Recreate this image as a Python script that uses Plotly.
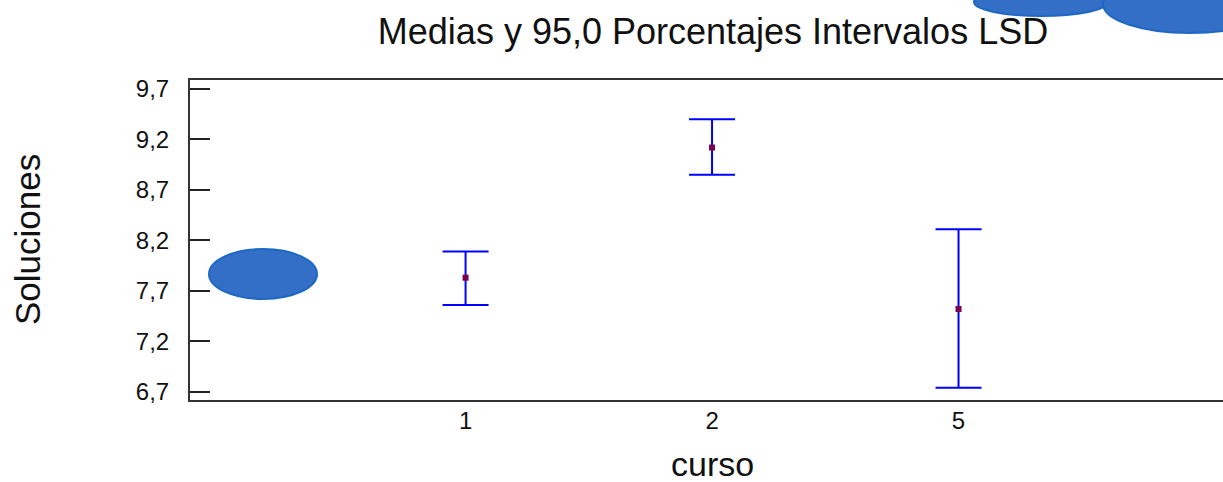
import plotly.graph_objects as go

# LSD means with 95% interval bounds for each course
cursos = ["1", "2", "5"]
medias = [7.83, 9.12, 7.52]
limite_sup = [8.09, 9.40, 8.31]
limite_inf = [7.56, 8.85, 6.74]

W, H = 1223, 482
L, R, T, B = 190, 0, 80, 82
plot_w = W - L - R
plot_h = H - T - B


def px_x(v):
    return (v - L) / plot_w


def px_y(v):
    return (H - B - v) / plot_h


err_up = [s - m for s, m in zip(limite_sup, medias)]
err_dn = [m - i for m, i in zip(medias, limite_inf)]

fig = go.Figure()
fig.add_trace(go.Scatter(
    x=cursos, y=medias, mode="markers",
    marker=dict(symbol="square", size=6, color="#7a0050"),
    error_y=dict(type="data", symmetric=False, array=err_up, arrayminus=err_dn,
                 color="#0000ff", thickness=2, width=23),
    showlegend=False, hoverinfo="x+y",
))

font = "Liberation Sans, Arial, sans-serif"
yr = [6.618, 9.789]
fig.update_layout(
    width=W, height=H,
    margin=dict(l=L, r=R, t=T, b=B, pad=0),
    paper_bgcolor="white", plot_bgcolor="white",
    separators=",.",
    font=dict(family=font, color="#111111"),
    title=dict(text="Medias y 95,0 Porcentajes Intervalos LSD",
               font=dict(size=36, family=font, color="#111111"),
               xref="container", yref="container", x=713 / W, y=1 - 31 / H,
               xanchor="center", yanchor="middle"),
    xaxis=dict(type="category", range=[-1.118, 3.073], showgrid=False, zeroline=False,
               showline=True, linecolor="#333333", linewidth=2, mirror=True,
               ticks="", tickfont=dict(size=24, color="#111111"),
               ticklabelstandoff=-2),
    yaxis=dict(range=yr, tick0=6.7, dtick=0.5, tickformat=".1f",
               showgrid=False, zeroline=False, showline=True, linecolor="#333333",
               linewidth=2, ticks="inside", ticklen=20, tickwidth=2, tickcolor="#222222",
               tickfont=dict(size=24, color="#111111"), ticklabelstandoff=14),
    yaxis2=dict(range=yr, tick0=6.7, dtick=0.5, overlaying="y", side="right",
                showgrid=False, zeroline=False, showline=False, showticklabels=False,
                ticks="inside", ticklen=8, tickwidth=2, tickcolor="#222222"),
    annotations=[
        dict(text="Soluciones", xref="paper", yref="paper", x=px_x(27), y=px_y(240),
             textangle=-90, showarrow=False, xanchor="center", yanchor="middle",
             font=dict(size=35, family=font, color="#111111")),
        dict(text="curso", xref="paper", yref="paper", x=px_x(712), y=px_y(464),
             showarrow=False, xanchor="center", yanchor="middle",
             font=dict(size=34, family=font, color="#111111")),
    ],
)

# decorative blue ellipses
ellipses = [
    (209, 249, 317, 299),
    (974, -12, 1108, 16),
    (1103, -25, 1277, 33),
]
for x0, y0, x1, y1 in ellipses:
    fig.add_shape(type="circle", xref="paper", yref="paper",
                  x0=px_x(x0), x1=px_x(x1), y0=px_y(y1), y1=px_y(y0),
                  fillcolor="#336fc6", line=dict(color="#1d68c4", width=2),
                  layer="above")

fig.write_html("out.html")
